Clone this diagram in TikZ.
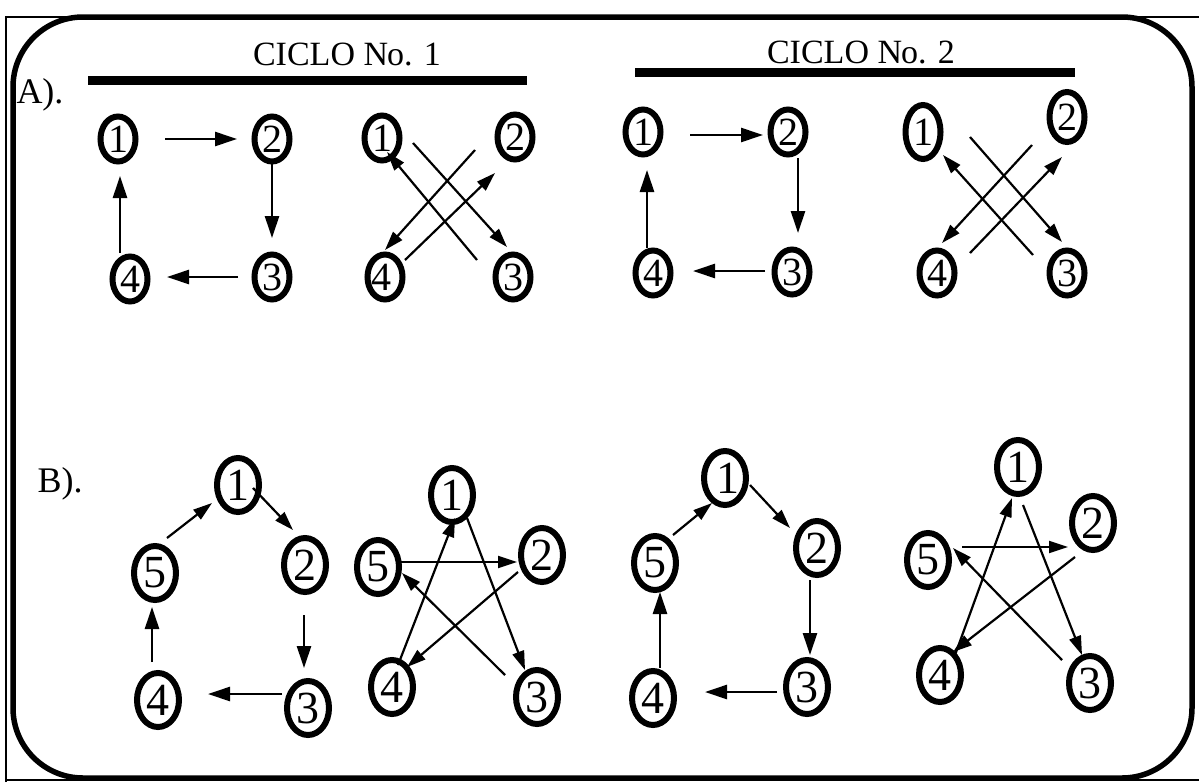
\documentclass[tikz,border=0pt]{standalone}
\usepackage{fontspec}
\setmainfont{Liberation Serif}
\usetikzlibrary{arrows.meta,calc,shapes.geometric}
\begin{document}
\begin{tikzpicture}[x=1pt,y=-1pt,
  nA/.style={ellipse,draw,line width=6pt,minimum width=35pt,minimum height=45pt,inner sep=0pt,font=\fontsize{40}{40}\selectfont},
  nB/.style={ellipse,draw,line width=6pt,minimum width=42pt,minimum height=54pt,inner sep=0pt,font=\fontsize{46}{46}\selectfont},
  arr/.style={line width=2.6pt,-{Triangle[length=22pt,width=14pt]}},
  arrs/.style={line width=2.2pt,-{Triangle[length=19pt,width=12pt]}},
  title/.style={font=\fontsize{34}{34}\selectfont},
  lab/.style={font=\fontsize{36}{36}\selectfont},
  bar/.style={line width=9pt},
  frame/.style={line width=5.5pt,rounded corners=70pt},
  thin/.style={line width=1.5pt}]
\useasboundingbox (0,0) rectangle (1199,782);
% frame
\draw[thin] (6,782) -- (6,17) -- (1199,17);
\draw[thin] (6,780) -- (1199,780);
\draw[frame] (13,17) rectangle (1192,778);
% titles
\node[title] (t1) at (347,54) {CICLO N\kern-1pt o. 1};
\node[title] (t2) at (861,52) {CICLO N\kern-1pt o. 2};
\draw[bar] (88,80) -- (527,80);
\draw[bar] (635,72) -- (1075,72);
\node[lab] (la) at (40,95) {A).};
\node[lab] (lb) at (60,484) {B).};
% A cycle 1 square
\node[nA] (a1) at (118,139) {1};
\node[nA] (a2) at (272,139) {2};
\node[nA] (a3) at (272,277) {3};
\node[nA] (a4) at (130,279) {4};
\draw[arr] ($(a1)+(47,0)$) -- ($(a2)+(-35,0)$);
\draw[arr] ($(a2)+(0,24)$) -- ($(a3)+(0,-39)$);
\draw[arr] ($(a3)+(-34,0)$) -- ($(a4)+(37,-2)$);
\draw[arr] ($(a4)+(-10,-26)$) -- ($(a1)+(2,37)$);
% A cycle 1 cross
\node[nA] (b1) at (382,138) {1};
\node[nA] (b2) at (515,137) {2};
\node[nA] (b3) at (513,277) {3};
\node[nA] (b4) at (385,277) {\kern-8pt 4};
\draw[arrs] ($(b1)+(31,5)$) -- ($(b3)+(-6,-30)$);
\draw[arrs] ($(b3)+(-36,-17)$) -- ($(b1)+(5,14)$);
\draw[arrs] ($(b2)+(-40,13)$) -- ($(b4)+(0,-27)$);
\draw[arrs] ($(b4)+(20,-17)$) -- ($(b2)+(-20,36)$);
% A cycle 2 square
\node[nA] (c1) at (643,132) {1};
\node[nA] (c2) at (788,132) {2};
\node[nA] (c3) at (792,272) {3};
\node[nA] (c4) at (653,273) {4};
\draw[arr] ($(c1)+(47,3)$) -- ($(c2)+(-25,3)$);
\draw[arr] ($(c2)+(10,26)$) -- ($(c3)+(6,-39)$);
\draw[arr] ($(c3)+(-27,-1)$) -- ($(c4)+(40,-2)$);
\draw[arr] ($(c4)+(-6,-25)$) -- ($(c1)+(4,38)$);
% A cycle 2 cross
\node[nA,minimum height=54pt] (d1) at (923,132) {1};
\node[nA,minimum height=50pt] (d2) at (1067,117) {\raisebox{-4pt}{2}};
\node[nA] (d3) at (1067,273) {3};
\node[nA] (d4) at (937,273) {4};
\draw[arrs] ($(d1)+(47,5)$) -- ($(d3)+(-5,-31)$);
\draw[arrs] ($(d3)+(-34,-18)$) -- ($(d1)+(20,23)$);
\draw[arrs] ($(d2)+(-35,28)$) -- ($(d4)+(5,-30)$);
\draw[arrs] ($(d4)+(33,-20)$) -- ($(d2)+(-5,40)$);
% B cycle 1 pentagon
\node[nB] (e1) at (238,485) {1};
\node[nB] (e2) at (305,565) {2};
\node[nB] (e3) at (308,708) {3};
\node[nB] (e4) at (158,700) {4};
\node[nB] (e5) at (155,573) {5};
\draw[arrs] ($(e5)+(12,-35)$) -- ($(e1)+(-26,18)$);
\draw[arrs] ($(e1)+(15,3)$) -- ($(e2)+(-12,-35)$);
\draw[arr] ($(e2)+(-1,50)$) -- ($(e3)+(-4,-40)$);
\draw[arr] ($(e3)+(-26,-14)$) -- ($(e4)+(50,-6)$);
\draw[arr] ($(e4)+(-6,-38)$) -- ($(e5)+(-3,34)$);
% B cycle 1 star
\node[nB] (f1) at (452,495) {1};
\node[nB] (f2) at (542,555) {2};
\node[nB] (f3) at (537,697) {3};
\node[nB] (f4) at (392,687) {4};
\node[nB] (f5) at (378,567) {5};
\draw[arrs] ($(f5)+(20,-5)$) -- ($(f2)+(-25,7)$);
\draw[arrs] ($(f3)+(-32,-22)$) -- ($(f5)+(24,6)$);
\draw[arrs] ($(f2)+(-24,17)$) -- ($(f4)+(15,-20)$);
\draw[arrs] ($(f4)+(6,-22)$) -- ($(f1)+(3,23)$);
\draw[arrs] ($(f1)+(15,23)$) -- ($(f3)+(-12,-27)$);
% B cycle 2 pentagon
\node[nB] (g1) at (725,478) {\kern6pt 1};
\node[nB] (g2) at (817,548) {2};
\node[nB] (g3) at (807,687) {3};
\node[nB] (g4) at (653,698) {4};
\node[nB] (g5) at (655,563) {\raisebox{-6pt}{5}};
\draw[arrs] ($(g5)+(18,-28)$) -- ($(g1)+(-13,25)$);
\draw[arrs] ($(g1)+(25,7)$) -- ($(g2)+(-27,-20)$);
\draw[arr] ($(g2)+(-7,32)$) -- ($(g3)+(3,-32)$);
\draw[arr] ($(g3)+(-30,5)$) -- ($(g4)+(52,-6)$);
\draw[arr] ($(g4)+(7,-30)$) -- ($(g5)+(5,29)$);
% B cycle 2 star
\node[nB] (h1) at (1018,467) {1};
\node[nB] (h2) at (1093,523) {2};
\node[nB] (h3) at (1090,683) {3};
\node[nB] (h4) at (940,675) {4};
\node[nB] (h5) at (928,560) {5};
\draw[arrs] ($(h5)+(34,-13)$) -- ($(h2)+(-25,24)$);
\draw[arrs] ($(h3)+(-28,-23)$) -- ($(h5)+(25,-12)$);
\draw[arrs] ($(h2)+(-18,34)$) -- ($(h4)+(13,-23)$);
\draw[arrs] ($(h4)+(15,-20)$) -- ($(h1)+(-6,31)$);
\draw[arrs] ($(h1)+(5,38)$) -- ($(h3)+(-8,-28)$);
\end{tikzpicture}
\end{document}
